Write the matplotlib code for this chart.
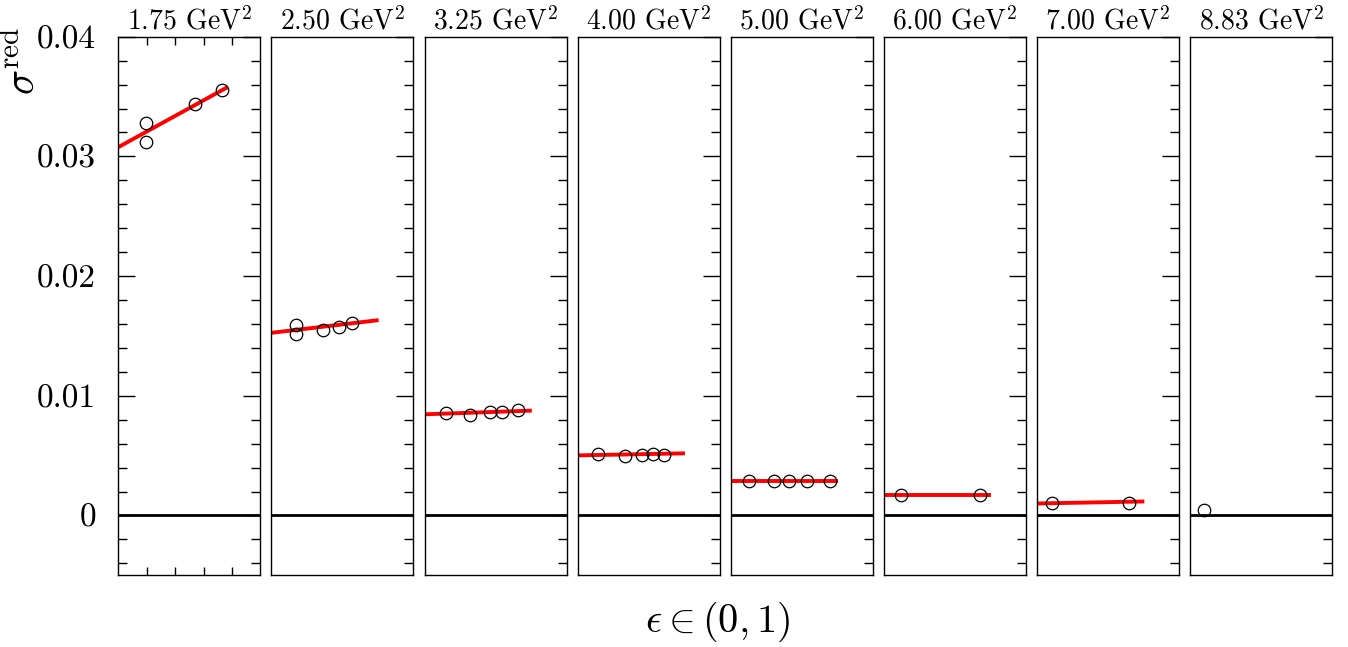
import matplotlib
matplotlib.use("Agg")
import matplotlib.pyplot as plt
from matplotlib.ticker import MultipleLocator

plt.rcParams["font.family"] = "serif"
plt.rcParams["font.serif"] = ["cmr10", "DejaVu Serif"]
plt.rcParams["mathtext.fontset"] = "cm"
plt.rcParams["axes.formatter.use_mathtext"] = True

# Q^2 bins (panel titles)
Q2_LABELS = ["1.75", "2.50", "3.25", "4.00", "5.00", "6.00", "7.00", "8.83"]

EPS = [
    [0.198, 0.198, 0.541, 0.730],
    [0.172, 0.172, 0.364, 0.478, 0.569],
    [0.154, 0.319, 0.464, 0.545, 0.657],
    [0.142, 0.331, 0.452, 0.527, 0.611],
    [0.131, 0.305, 0.406, 0.538, 0.697],
    [0.119, 0.674],
    [0.107, 0.650],
    [0.096],
]
SIGMA = [
    [0.03278, 0.03119, 0.03437, 0.03556],
    [0.01590, 0.01512, 0.01548, 0.01576, 0.01609],
    [0.00859, 0.00842, 0.00865, 0.00868, 0.00879],
    [0.00516, 0.00496, 0.00502, 0.00510, 0.00508],
    [0.00287, 0.00287, 0.00287, 0.00287, 0.00287],
    [0.00167, 0.00167],
    [0.00103, 0.00103],
    [0.00048],
]

# linear (Rosenbluth-type) fits: value at eps=0 and at the end of the line
FIT_EPS_END = [0.77, 0.755, 0.755, 0.755, 0.755, 0.755, 0.755, None]
FIT_START = [0.03077, 0.01526, 0.00845, 0.00502, 0.00285, 0.00167, 0.00100, None]
FIT_END = [0.03579, 0.01632, 0.00876, 0.00519, 0.00285, 0.00167, 0.00117, None]

W, H = 1348, 647
fig = plt.figure(figsize=(W / 100, H / 100), dpi=100)

left0, step, width = 118.3, 153.14, 142.0
top, bottom = 36.7, 575.3

for i, q2 in enumerate(Q2_LABELS):
    ax = fig.add_axes([(left0 + i * step) / W, 1 - bottom / H,
                       width / W, (bottom - top) / H])
    ax.set_xlim(0, 1)
    ax.set_ylim(-0.005, 0.04)
    ax.axhline(0, color="black", lw=2.0, zorder=1)

    if FIT_EPS_END[i] is not None:
        ax.plot([0, FIT_EPS_END[i]], [FIT_START[i], FIT_END[i]],
                color="red", lw=2.8, zorder=2, solid_capstyle="butt")
    ax.plot(EPS[i], SIGMA[i], "o", ms=9, mfc="none", mec="black",
            mew=0.9, zorder=3)

    ax.set_title(q2 + r" GeV$^2$", fontsize=20, pad=5)

    for s in ax.spines.values():
        s.set_linewidth(1.0)

    ax.yaxis.set_major_locator(MultipleLocator(0.01))
    ax.yaxis.set_minor_locator(MultipleLocator(0.002))
    ax.tick_params(axis="y", which="major", direction="in", length=12,
                   width=1, right=True, pad=16, labelsize=24)
    ax.tick_params(axis="y", which="minor", direction="in", length=6.5,
                   width=1, right=True)

    if i == 0:
        ax.set_yticks([0, 0.01, 0.02, 0.03, 0.04])
        ax.set_yticklabels(["0", "0.01", "0.02", "0.03", "0.04"])
        ax.set_xticks([0.2, 0.4, 0.6, 0.8])
        ax.tick_params(axis="x", which="major", direction="in", length=5.5,
                       width=1, top=True, labelbottom=False)
    else:
        ax.tick_params(axis="y", which="both", left=False, labelleft=False)
        ax.set_xticks([])

fig.text(23 / W, 1 - 61 / H, r"$\sigma^{\rm red}$", rotation=90,
         ha="center", va="center", fontsize=30)
fig.text(718 / W, 1 - 622 / H, r"$\epsilon \in (0,1)$",
         ha="center", va="center", fontsize=29)

fig.savefig("out.png", dpi=100)
